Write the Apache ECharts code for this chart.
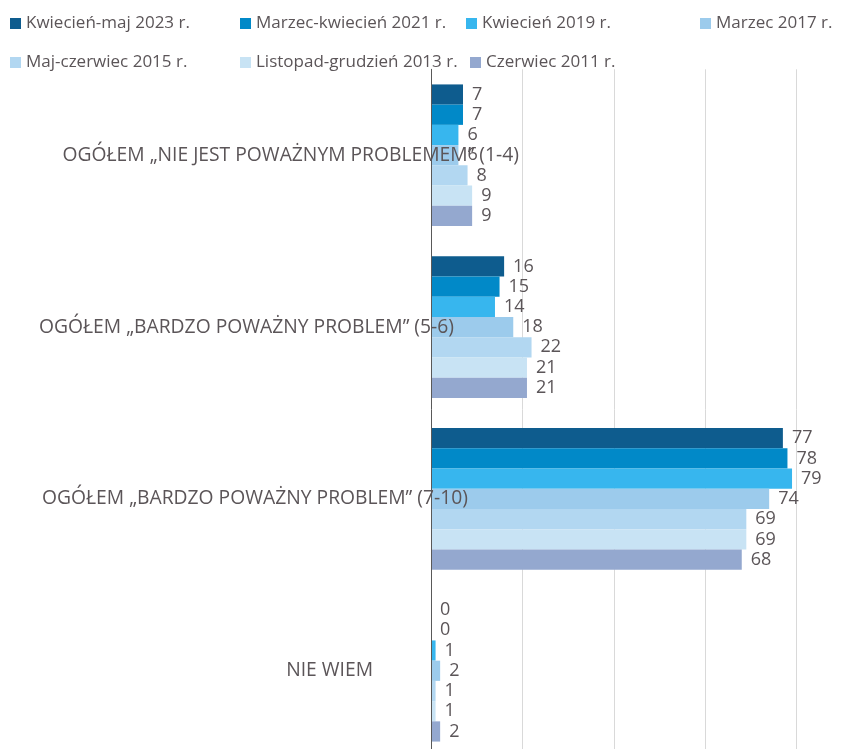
<!DOCTYPE html>
<html><head><meta charset="utf-8">
<script src="https://cdn.jsdelivr.net/npm/echarts@6/dist/echarts.min.js"></script>
<style>html,body{margin:0;padding:0;background:#fff}#c{width:844px;height:749px}</style>
</head><body><div id="c"></div>
<script>
const categories = ['OGÓŁEM „NIE JEST POWAŻNYM PROBLEMEM” (1-4)', 'OGÓŁEM „BARDZO POWAŻNY PROBLEM” (5-6)', 'OGÓŁEM „BARDZO POWAŻNY PROBLEM” (7-10)', 'NIE WIEM'];
const seriesNames = ['Kwiecień-maj 2023 r.', 'Marzec-kwiecień 2021 r.', 'Kwiecień 2019 r.', 'Marzec 2017 r.', 'Maj-czerwiec 2015 r.', 'Listopad-grudzień 2013 r.', 'Czerwiec 2011 r.'];
const v2023 = [7, 16, 77, 0];
const v2021 = [7, 15, 78, 0];
const v2019 = [6, 14, 79, 1];
const v2017 = [6, 18, 74, 2];
const v2015 = [8, 22, 69, 1];
const v2013 = [9, 21, 69, 1];
const v2011 = [9, 21, 68, 2];
const seriesValues = [v2023, v2021, v2019, v2017, v2015, v2013, v2011];
const colors = ['#0E5C8E', '#0189C8', '#37B6EE', '#9CCBEC', '#B2D7F1', '#C8E3F4', '#94A8CF'];

const FONT = '"Open Sans", "Noto Sans", sans-serif';
const TXT = '#5b5558';
const legendPos = [[10, 15], [240, 15], [466, 15], [700, 15], [10, 54], [240, 54], [470, 54]];
const labelShift = [0, 65, 51, 146];

const chart = echarts.init(document.getElementById('c'), null, {renderer: 'canvas'});
const rich = {};
labelShift.forEach((s, i) => { rich['c' + i] = {padding: [0, s, 0, 0], fontSize: 19.3, color: TXT, fontFamily: FONT}; });

chart.setOption({
  animation: false,
  color: colors,
  textStyle: {fontFamily: FONT},
  legend: seriesNames.map((n, i) => ({
    data: [n], left: legendPos[i][0], top: legendPos[i][1], icon: 'rect', itemWidth: 11, itemHeight: 11, itemGap: 5,
    padding: 0, textStyle: {fontSize: 17, color: TXT, fontFamily: FONT}
  })),
  grid: {left: 431, top: 69.3, width: 457, height: 687.4, containLabel: false, outerBoundsMode: 'none'},
  xAxis: {
    type: 'value', min: 0, max: 100, interval: 20,
    axisLine: {show: false}, axisTick: {show: false}, axisLabel: {show: false},
    splitLine: {lineStyle: {color: '#d9d9d9', width: 1}}
  },
  yAxis: {
    type: 'category', inverse: true, data: categories, z: 10,
    axisLine: {lineStyle: {color: '#595959', width: 1}}, axisTick: {show: false},
    axisLabel: {
      align: 'right', margin: -88, fontSize: 19.3, color: TXT, fontFamily: FONT,
      formatter: (v, i) => '{c' + i + '|' + v + '}', rich: rich
    }
  },
  series: seriesValues.map((vals, i) => ({
    name: seriesNames[i], type: 'bar', data: vals,
    barGap: '0%', barCategoryGap: '17.6%',
    label: {show: true, position: 'right', distance: 9, fontSize: 18, color: TXT, fontFamily: FONT}
  }))
});
</script></body></html>
